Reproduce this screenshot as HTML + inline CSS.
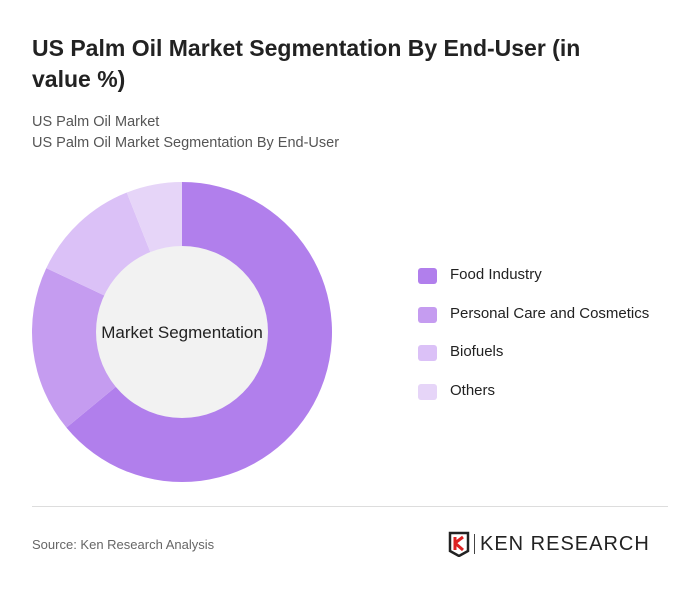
<!DOCTYPE html>
<html><head><meta charset="utf-8"><style>
body{margin:0;width:700px;height:591px;background:#fff;font-family:"Liberation Sans",sans-serif;overflow:hidden;position:relative}
.t{position:absolute;left:32px;top:33px;font-size:23px;font-weight:bold;color:#222;line-height:31px;width:590px}
.s{position:absolute;left:32px;font-size:14.5px;color:#555}
.lg{position:absolute;left:418px;font-size:15px;color:#222}
.lg i{position:absolute;left:0;top:2px;width:19px;height:16px;border-radius:3px}
.lg span{position:absolute;left:32px;top:0;white-space:nowrap}
</style></head><body>
<div class="t">US Palm Oil Market Segmentation By End-User (in value %)</div>
<div class="s" style="top:114px">US Palm Oil Market</div>
<div class="s" style="top:135px">US Palm Oil Market Segmentation By End-User</div>
<svg id="c" width="700" height="591" style="position:absolute;left:0;top:0"></svg>
<div id="legend"></div>
<div style="position:absolute;left:32px;top:506px;width:636px;height:1px;background:#ddd"></div>
<div class="s" style="top:537px;font-size:13px;color:#666">Source: Ken Research Analysis</div>
<div style="position:absolute;left:448px;top:531px;width:222px;height:26px">
<svg width="24" height="26" style="position:absolute;left:0;top:0"><path d="M2 2h18v18l-9 5-9-5z" fill="none" stroke="#222" stroke-width="2.5"/><path d="M7 6v13M7 12l8-6M7 12l8 7" stroke="#d22" stroke-width="3" fill="none"/></svg>
<div style="position:absolute;left:26px;top:3px;width:1px;height:20px;background:#444"></div>
<div style="position:absolute;left:32px;top:2px;font-size:20px;color:#222;letter-spacing:1px;white-space:nowrap">KEN RESEARCH</div>
</div>
<script>
const categories=["Food Industry","Personal Care and Cosmetics","Biofuels","Others"];
const values=[64,18,12,6];
const colors=["#b17fec","#c59cf0","#dbc1f7","#e6d5f8"];
const svg=document.getElementById('c');
const NS="http://www.w3.org/2000/svg";
const cx=182,cy=332,R=150,r=86;
const total=values.reduce((a,b)=>a+b,0);
let a0=0;
function pt(a,rad){return [cx+rad*Math.sin(a),cy-rad*Math.cos(a)];}
values.forEach((v,i)=>{
  const a1=a0+v/total*2*Math.PI;
  const [x0,y0]=pt(a0,R),[x1,y1]=pt(a1,R);
  const large=(a1-a0)>Math.PI?1:0;
  const p=document.createElementNS(NS,'path');
  p.setAttribute('d',`M${cx} ${cy}L${x0} ${y0}A${R} ${R} 0 ${large} 1 ${x1} ${y1}Z`);
  p.setAttribute('fill',colors[i]);
  
  
  svg.appendChild(p);
  a0=a1;
});
const h=document.createElementNS(NS,'circle');
h.setAttribute('cx',cx);h.setAttribute('cy',cy);h.setAttribute('r',r);h.setAttribute('fill','#f2f2f2');


svg.appendChild(h);
const t=document.createElementNS(NS,'text');
t.setAttribute('x',cx);t.setAttribute('y',cy+6);t.setAttribute('text-anchor','middle');
t.setAttribute('font-size','17');t.setAttribute('fill','#222');t.setAttribute('font-family','Liberation Sans, sans-serif');
t.textContent='Market Segmentation';


svg.appendChild(t);
const lg=document.getElementById('legend');
categories.forEach((c,i)=>{
  const d=document.createElement('div');
  d.className='lg';d.style.top=(266+i*38.5)+'px';
  d.innerHTML=`<i style="background:${colors[i]}"></i><span>${c}</span>`;
  
  
  lg.appendChild(d);
});
</script>
</body></html>
